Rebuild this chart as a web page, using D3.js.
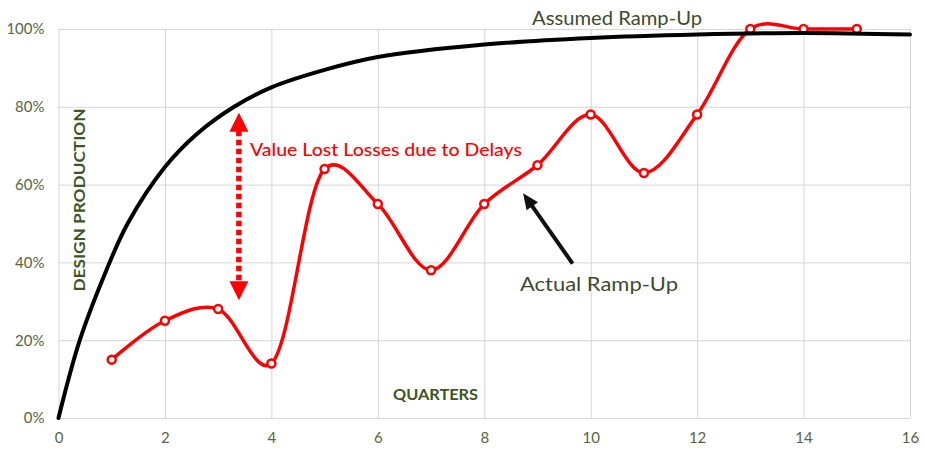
<!DOCTYPE html>
<html>
<head>
<meta charset="utf-8">
<script src="https://cdn.jsdelivr.net/npm/d3@7"></script>
<style>
  html, body { margin: 0; padding: 0; background: #ffffff; }
  svg { display: block; }
</style>
</head>
<body>
<div id="chart"></div>
<script>
// ---- Data ----
const quarters = [1, 2, 3, 4, 5, 6, 7, 8, 9, 10, 11, 12, 13, 14, 15];
const actualRamp = [15, 25, 28, 14, 64, 55, 38, 55, 65, 78, 63, 78, 100, 100, 100];
const assumedX = [0, 0.4, 0.9, 1.3, 2, 2.6, 3.3, 4, 5, 6, 8, 10, 12, 14, 16];
const assumedRamp = [0, 20, 38, 50, 64.5, 73, 80, 85, 89.5, 92.8, 96, 97.7, 98.6, 99, 98.6];
const xTickValues = [0, 2, 4, 6, 8, 10, 12, 14, 16];
const yTickValues = [0, 20, 40, 60, 80, 100];
const yTickLabels = ["0%", "20%", "40%", "60%", "80%", "100%"];

// ---- Layout ----
const W = 925, H = 458;
const plot = { left: 58.5, right: 910, top: 29, bottom: 418 };
const fontFamily = "Lato, 'Open Sans', 'DejaVu Sans', sans-serif";
const tickColor = "#56663f";
const titleColor = "#3b5524";

const svg = d3.select("#chart").append("svg")
  .attr("width", W).attr("height", H);

const x = d3.scaleLinear().domain([0, 16]).range([plot.left, plot.right]);
const y = d3.scaleLinear().domain([0, 100]).range([plot.bottom, plot.top]);

// ---- Grid & axes ----
const xAxis = d3.axisBottom(x).tickValues(xTickValues)
  .tickSize(-(plot.bottom - plot.top)).tickPadding(14).tickFormat(d3.format("d"));
const gx = svg.append("g").attr("transform", `translate(0,${plot.bottom})`).call(xAxis);
gx.select(".domain").remove();
gx.selectAll(".tick line").attr("stroke", "#d6d6d6").attr("stroke-width", 1);
gx.selectAll(".tick text").attr("fill", tickColor).attr("font-size", 15)
  .attr("font-family", fontFamily);

const yAxis = d3.axisLeft(y).tickValues(yTickValues)
  .tickSize(-(plot.right - plot.left)).tickPadding(14)
  .tickFormat((d, i) => yTickLabels[i]);
const gy = svg.append("g").attr("transform", `translate(${plot.left},0)`).call(yAxis);
gy.select(".domain").remove();
gy.selectAll(".tick line").attr("stroke", "#d6d6d6").attr("stroke-width", 1);
gy.selectAll(".tick text").attr("fill", tickColor).attr("font-size", 15)
  .attr("font-family", fontFamily);

// ---- Axis titles ----
svg.append("text")
  .attr("x", 435.5).attr("y", 400)
  .attr("text-anchor", "middle")
  .attr("font-family", fontFamily).attr("font-weight", "bold")
  .attr("font-size", 16).attr("fill", titleColor)
  .attr("textLength", 85).attr("lengthAdjust", "spacingAndGlyphs")
  .text("QUARTERS");

svg.append("text")
  .attr("transform", "translate(85,200) rotate(-90)")
  .attr("text-anchor", "middle")
  .attr("font-family", fontFamily).attr("font-weight", "bold")
  .attr("font-size", 16).attr("fill", titleColor)
  .attr("textLength", 183).attr("lengthAdjust", "spacingAndGlyphs")
  .text("DESIGN PRODUCTION");

// ---- Actual ramp-up (red) ----
const actualData = quarters.map((q, i) => ({ q, v: actualRamp[i] }));
const redLine = d3.line().x(d => x(d.q)).y(d => y(d.v)).curve(d3.curveCatmullRom.alpha(0.2));
svg.append("path").datum(actualData)
  .attr("d", redLine)
  .attr("fill", "none").attr("stroke", "#ff0000").attr("stroke-width", 3.5)
  .attr("stroke-linejoin", "round");
svg.append("g").selectAll("circle").data(actualData).join("circle")
  .attr("cx", d => x(d.q)).attr("cy", d => y(d.v)).attr("r", 4)
  .attr("fill", "#ffffff").attr("stroke", "#ff0000").attr("stroke-width", 2.5);

// ---- Assumed ramp-up (black) ----
const assumedData = assumedX.map((q, i) => ({ q, v: assumedRamp[i] }));
const blackLine = d3.line().x(d => x(d.q)).y(d => y(d.v)).curve(d3.curveCatmullRom.alpha(0.5));
svg.append("path").datum(assumedData)
  .attr("d", blackLine)
  .attr("fill", "none").attr("stroke", "#000000").attr("stroke-width", 4)
  .attr("stroke-linecap", "round");

// ---- Annotations ----
// Dotted red double arrow
const ax = x(3.39), aTop = y(78.5), aBot = y(30.3);
const headL = 19, headW = 19;
svg.append("line")
  .attr("x1", ax).attr("x2", ax)
  .attr("y1", aTop + headL - 1).attr("y2", aBot - headL + 1)
  .attr("stroke", "#ff0000").attr("stroke-width", 5.5)
  .attr("stroke-dasharray", "5.5,3.5");
svg.append("path")
  .attr("d", `M${ax},${aTop} L${ax - headW / 2},${aTop + headL} L${ax + headW / 2},${aTop + headL} Z`)
  .attr("fill", "#ff0000");
svg.append("path")
  .attr("d", `M${ax},${aBot} L${ax - headW / 2},${aBot - headL} L${ax + headW / 2},${aBot - headL} Z`)
  .attr("fill", "#ff0000");

svg.append("text")
  .attr("x", 250).attr("y", 156)
  .attr("font-family", fontFamily).attr("font-size", 17).attr("font-weight", 500)
  .attr("fill", "#ff0000")
  .attr("textLength", 272).attr("lengthAdjust", "spacingAndGlyphs")
  .text("Value Lost Losses due to Delays");

// Black arrow pointing to actual curve
const tail = [x(9.66), y(39.7)], tip = [x(8.73), y(57.8)];
const ang = Math.atan2(tip[1] - tail[1], tip[0] - tail[0]);
const hl = 16, hw = 14;
const baseX = tip[0] - hl * Math.cos(ang), baseY = tip[1] - hl * Math.sin(ang);
svg.append("line")
  .attr("x1", tail[0]).attr("y1", tail[1])
  .attr("x2", baseX + 2 * Math.cos(ang)).attr("y2", baseY + 2 * Math.sin(ang))
  .attr("stroke", "#111111").attr("stroke-width", 4);
svg.append("path")
  .attr("d", `M${tip[0]},${tip[1]} L${baseX - hw / 2 * Math.sin(ang)},${baseY + hw / 2 * Math.cos(ang)} L${baseX + hw / 2 * Math.sin(ang)},${baseY - hw / 2 * Math.cos(ang)} Z`)
  .attr("fill", "#111111");

svg.append("text")
  .attr("x", 520).attr("y", 291)
  .attr("font-family", fontFamily).attr("font-size", 19)
  .attr("fill", "#3d4b2e")
  .attr("textLength", 158).attr("lengthAdjust", "spacingAndGlyphs")
  .text("Actual Ramp-Up");

svg.append("text")
  .attr("x", 532).attr("y", 25)
  .attr("font-family", fontFamily).attr("font-size", 19)
  .attr("fill", "#3d4b2e")
  .attr("textLength", 170).attr("lengthAdjust", "spacingAndGlyphs")
  .text("Assumed Ramp-Up");
</script>
</body>
</html>
